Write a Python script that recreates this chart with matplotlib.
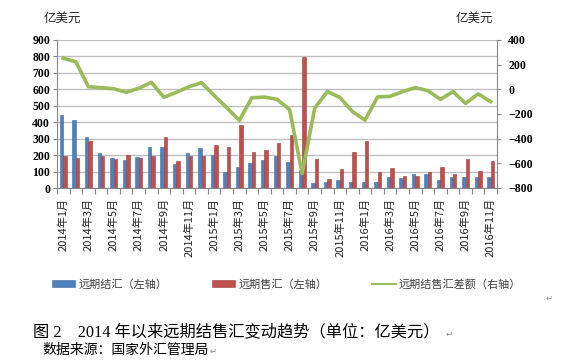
import matplotlib
matplotlib.use("Agg")
import matplotlib.pyplot as plt
from matplotlib.patches import Patch
from matplotlib.lines import Line2D
import numpy as np

plt.rcParams['font.family'] = ['Noto Sans CJK SC', 'DejaVu Sans']

months = [f"{y}年{m}月" for y in (2014, 2015, 2016) for m in range(1, 13)][:35]

settle = [446, 412, 310, 211, 185, 172, 191, 247, 247, 144, 211, 241,
          199, 99, 126, 154, 170, 195, 160, 109, 28, 39, 49, 37,
          37, 34, 65, 59, 85, 85, 49, 65, 65, 69, 69]
sale = [193, 185, 284, 197, 174, 199, 185, 193, 310, 162, 197, 193,
        259, 251, 382, 217, 230, 275, 325, 795, 177, 54, 113, 218,
        286, 98, 120, 74, 73, 96, 129, 83, 177, 103, 164]
net = [252, 224, 21, 13, 5, -24, 8, 57, -65, -24, 21, 54,
       -50, -148, -252, -68, -63, -81, -164, -683, -152, -18, -66, -180,
       -250, -62, -57, -18, 14, -11, -81, -19, -114, -37, -100]

left_ticks = list(range(0, 901, 100))
right_ticks = list(range(-800, 401, 200))

legend_labels = ["远期结汇（左轴）", "远期售汇（左轴）", "远期结售汇差额（右轴）"]
caption = "图 2\u30002014 年以来远期结售汇变动趋势（单位：亿美元）"
source = "数据来源：国家外汇管理局"
unit = "亿美元"

c_blue = '#4F81BD'
c_red = '#C0504D'
c_green = '#9BBB59'
c_grid = '#BFBFBF'
c_axis = '#868686'

W, H = 578, 364
fig = plt.figure(figsize=(W / 100, H / 100), dpi=100)
ax = fig.add_axes([57 / W, 1 - 188 / H, 440 / W, 148 / H])

x = np.arange(len(months))
bw = 0.27
ax.bar(x - bw / 2, settle, width=bw, color=c_blue, edgecolor='#3B6CA8', linewidth=0.4, zorder=2)
ax.bar(x + bw / 2, sale, width=bw, color=c_red, edgecolor='#9E3A37', linewidth=0.4, zorder=2)

ax.set_xlim(-0.5, len(months) - 0.5)
ax.set_ylim(0, 900)
ax.set_yticks(left_ticks)
ax.yaxis.grid(True, color=c_grid, linewidth=1.0)
ax.set_axisbelow(True)
ax.set_xticks(x[::2])
ax.set_xticklabels(months[::2], rotation=90, fontsize=8, va='top', ha='center', color='#262626')
ax.set_xticks(np.arange(-0.5, len(months), 1), minor=True)
ax.tick_params(axis='x', which='major', length=0, pad=7)
ax.tick_params(axis='x', which='minor', length=4, color=c_axis, width=0.8)
ax.tick_params(axis='y', length=3, color=c_axis, width=0.8, pad=2)
for lab in ax.get_yticklabels():
    lab.set_fontfamily('Liberation Serif')
    lab.set_fontweight('bold')
    lab.set_fontsize(8.5)
for s in ('top', 'right'):
    ax.spines[s].set_visible(False)
ax.spines['left'].set_color(c_axis)
ax.spines['bottom'].set_color(c_axis)

ax2 = ax.twinx()
ax2.plot(x, net, color=c_green, linewidth=2.6, solid_joinstyle='round', zorder=3)
ax2.set_ylim(-800, 400)
ax2.set_yticks(right_ticks)
ax2.tick_params(axis='y', length=3, color=c_axis, width=0.8, pad=5)
for lab in ax2.get_yticklabels():
    lab.set_fontfamily('Liberation Serif')
    lab.set_fontweight('bold')
    lab.set_fontsize(8.5)
for s in ('top', 'left', 'bottom'):
    ax2.spines[s].set_visible(False)
ax2.spines['right'].set_color(c_axis)

fig.text(62 / W, 1 - 18 / H, unit, fontsize=9, ha='center', va='center', color='#262626')
fig.text(474 / W, 1 - 18 / H, unit, fontsize=9, ha='center', va='center', color='#262626')

handles = [Patch(facecolor=c_blue, edgecolor='#3B6CA8', linewidth=0.4),
           Patch(facecolor=c_red, edgecolor='#9E3A37', linewidth=0.4),
           Line2D([0], [0], color=c_green, linewidth=1.5)]
fig.legend(handles, legend_labels, loc='center left', bbox_to_anchor=(52 / W, 1 - 284 / H),
           ncol=3, frameon=False, fontsize=8, handlelength=2.1, handleheight=0.5,
           handletextpad=0.3, columnspacing=4.0, borderpad=0, borderaxespad=0,
           labelcolor='#404040')

fig.text(33 / W, 1 - 332 / H, caption, fontsize=11.7, ha='left', va='center',
         family=['Liberation Serif', 'Noto Sans CJK SC'], color='black')
fig.text(42 / W, 1 - 350 / H, source, fontsize=10, ha='left', va='center', color='black')
fig.text(446 / W, 1 - 334 / H, "\u21b5", fontsize=6, ha='left', va='center', color='#888888',
         family=['DejaVu Sans'])
fig.text(210 / W, 1 - 351 / H, "\u21b5", fontsize=6, ha='left', va='center', color='#888888',
         family=['DejaVu Sans'])
fig.text(546 / W, 1 - 298 / H, "\u21b5", fontsize=6, ha='left', va='center', color='#888888',
         family=['DejaVu Sans'])

fig.savefig("out.png", dpi=100)
